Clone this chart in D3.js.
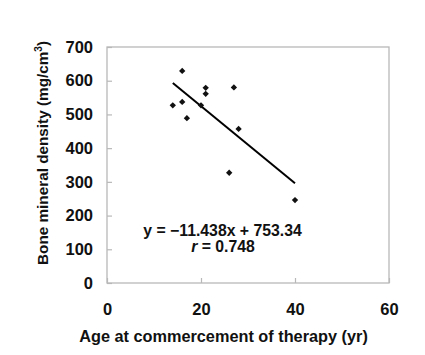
<!DOCTYPE html>
<html><head><meta charset="utf-8">
<script src="https://cdn.jsdelivr.net/npm/d3@7"></script>
<style>body{margin:0;background:#fff}svg{display:block}</style>
</head><body>
<script>
const ages = [14, 16, 16, 17, 20, 21, 21, 27, 28, 26, 40];
const bmd = [527, 629, 537, 489, 527, 579, 561, 580, 457, 327, 246];
const slope = -11.438, intercept = 753.34;
const fitRange = [14, 40];
const xTicks = [0, 20, 40, 60];
const yTicks = [0, 100, 200, 300, 400, 500, 600, 700];
const eqText = "y = \u221211.438x + 753.34";
const rText = "0.748";
const xTitle = "Age at commercement of therapy (yr)";

const W = 425, H = 355;
const L = 107, R = 389, T = 47, B = 283;
const svg = d3.select("body").append("svg").attr("width", W).attr("height", H);
const x = d3.scaleLinear().domain([0, 60]).range([L, R]);
const y = d3.scaleLinear().domain([0, 700]).range([B, T]);
const font = "Liberation Sans, Arial, sans-serif";
const frameCol = "#b8b8b8";

svg.append("rect").attr("x", L).attr("y", T).attr("width", R - L).attr("height", B - T)
  .attr("fill", "none").attr("stroke", frameCol).attr("stroke-width", 1.3);

const yAxis = svg.append("g").attr("transform", `translate(${L},0)`)
  .call(d3.axisLeft(y).tickValues(yTicks).tickSize(-5).tickPadding(14));
const xAxis = svg.append("g").attr("transform", `translate(0,${B})`)
  .call(d3.axisBottom(x).tickValues(xTicks).tickSize(-5).tickPadding(20));
[yAxis, xAxis].forEach(g => {
  g.select(".domain").remove();
  g.selectAll(".tick line").attr("stroke", frameCol).attr("stroke-width", 1.2);
  g.selectAll(".tick text").attr("fill", "#111").attr("font-family", font)
    .attr("font-size", 16.5).attr("font-weight", "bold");
});
xAxis.selectAll(".tick text").attr("dy", "0.71em");

svg.append("line")
  .attr("x1", x(fitRange[0])).attr("y1", y(slope * fitRange[0] + intercept))
  .attr("x2", x(fitRange[1])).attr("y2", y(slope * fitRange[1] + intercept))
  .attr("stroke", "#000").attr("stroke-width", 2);

svg.selectAll(".pt").data(ages.map((a, i) => [a, bmd[i]])).enter().append("path")
  .attr("d", d3.symbol(d3.symbolSquare, 20))
  .attr("transform", d => `translate(${x(d[0])},${y(d[1])}) rotate(45)`)
  .attr("fill", "#111");

svg.append("text").attr("x", 222.5).attr("y", 236).attr("text-anchor", "middle")
  .attr("font-family", font).attr("font-size", 15.8).attr("font-weight", "bold").attr("fill", "#111")
  .text(eqText);
const rt = svg.append("text").attr("x", 223).attr("y", 252).attr("text-anchor", "middle")
  .attr("font-family", font).attr("font-size", 15.8).attr("font-weight", "bold").attr("fill", "#111");
rt.append("tspan").attr("font-style", "italic").text("r");
rt.append("tspan").text(" = " + rText);

svg.append("text").attr("x", 223.5).attr("y", 342).attr("text-anchor", "middle")
  .attr("font-family", font).attr("font-size", 16.3).attr("font-weight", "bold").attr("fill", "#111")
  .text(xTitle);

const yt = svg.append("text").attr("transform", "translate(48,153) rotate(-90)")
  .attr("text-anchor", "middle")
  .attr("font-family", font).attr("font-size", 15.3).attr("font-weight", "bold").attr("fill", "#111");
yt.append("tspan").text("Bone mineral density (mg/cm");
yt.append("tspan").attr("font-size", 10).attr("dy", -6).text("3");
yt.append("tspan").attr("dy", 6).text(")");
</script>
</body></html>
